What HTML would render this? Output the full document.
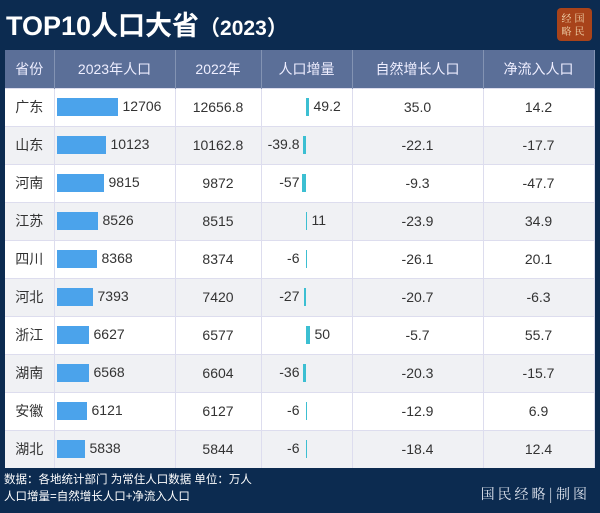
<!DOCTYPE html>
<html><head><meta charset="utf-8"><style>
body{margin:0;width:600px;height:513px;background:#0c2b50;font-family:"Liberation Sans","Noto Sans CJK SC",sans-serif;position:relative;overflow:hidden}
.t{position:absolute;left:6px;top:4px;color:#fff;font-size:27px;font-weight:bold;letter-spacing:0px}
.t span{font-size:21px}
.logo{position:absolute;left:557px;top:8px;width:35px;height:33px;background:#a8431a;border-radius:4px;color:#f3d9b0;font-family:"Noto Serif CJK SC",serif;font-size:10px;line-height:13px;text-align:center;padding-top:3px;box-sizing:border-box;letter-spacing:3px}
table{position:absolute;left:5px;top:50px;width:589px;border-collapse:collapse;table-layout:fixed}
th{height:38px;background:#5b6f98;color:#eef;font-weight:normal;font-size:14px;border-right:1px solid #8393b3;padding:0;box-sizing:border-box}
td{height:38px;box-sizing:border-box;font-size:14px;color:#333;text-align:center;border-right:1px solid #dde;border-top:1px solid #dde;padding:0;position:relative;line-height:16px}
tr:nth-child(odd) td{background:#f0f1f4}
tr:nth-child(even) td{background:#fff}
.b{position:absolute;left:2px;top:9px;height:18px;background:#4ba3eb}
.bl{position:absolute;top:9px;font-size:14px;line-height:16px}
.inc{position:absolute;top:9px;height:18px;background:#3cbfd2}
.foot{position:absolute;left:4px;top:472px;color:#fff;font-size:11.5px;line-height:17px}
.brand{position:absolute;right:10px;top:484px;color:#dfe4ee;font-size:14px;letter-spacing:3px;font-family:"Noto Serif CJK SC",serif}
</style></head><body>
<div class="t">TOP10人口大省<span>（2023）</span></div>
<div class="logo">经国<br>略民</div>
<table>
<colgroup><col style="width:49px"><col style="width:121px"><col style="width:86px"><col style="width:91px"><col style="width:131px"><col style="width:111px"></colgroup>
<tr><th>省份</th><th>2023年人口</th><th>2022年</th><th>人口增量</th><th>自然增长人口</th><th>净流入人口</th></tr>
<tr><td>广东</td><td style="text-align:left"><div class="b" style="width:61px"></div><span class="bl" style="left:68px">12706</span></td><td>12656.8</td><td><div class="inc" style="left:44px;width:3px"></div><span class="bl" style="left:52px">49.2</span></td><td>35.0</td><td>14.2</td></tr>
<tr><td>山东</td><td style="text-align:left"><div class="b" style="width:49px"></div><span class="bl" style="left:56px">10123</span></td><td>10162.8</td><td><div class="inc" style="left:41px;width:3px"></div><span class="bl" style="right:52px">-39.8</span></td><td>-22.1</td><td>-17.7</td></tr>
<tr><td>河南</td><td style="text-align:left"><div class="b" style="width:47px"></div><span class="bl" style="left:54px">9815</span></td><td>9872</td><td><div class="inc" style="left:40px;width:4px"></div><span class="bl" style="right:52px">-57</span></td><td>-9.3</td><td>-47.7</td></tr>
<tr><td>江苏</td><td style="text-align:left"><div class="b" style="width:41px"></div><span class="bl" style="left:48px">8526</span></td><td>8515</td><td><div class="inc" style="left:44px;width:1px"></div><span class="bl" style="left:50px">11</span></td><td>-23.9</td><td>34.9</td></tr>
<tr><td>四川</td><td style="text-align:left"><div class="b" style="width:40px"></div><span class="bl" style="left:47px">8368</span></td><td>8374</td><td><div class="inc" style="left:44px;width:1px"></div><span class="bl" style="right:52px">-6</span></td><td>-26.1</td><td>20.1</td></tr>
<tr><td>河北</td><td style="text-align:left"><div class="b" style="width:36px"></div><span class="bl" style="left:43px">7393</span></td><td>7420</td><td><div class="inc" style="left:42px;width:2px"></div><span class="bl" style="right:52px">-27</span></td><td>-20.7</td><td>-6.3</td></tr>
<tr><td>浙江</td><td style="text-align:left"><div class="b" style="width:32px"></div><span class="bl" style="left:39px">6627</span></td><td>6577</td><td><div class="inc" style="left:44px;width:4px"></div><span class="bl" style="left:53px">50</span></td><td>-5.7</td><td>55.7</td></tr>
<tr><td>湖南</td><td style="text-align:left"><div class="b" style="width:32px"></div><span class="bl" style="left:39px">6568</span></td><td>6604</td><td><div class="inc" style="left:41px;width:3px"></div><span class="bl" style="right:52px">-36</span></td><td>-20.3</td><td>-15.7</td></tr>
<tr><td>安徽</td><td style="text-align:left"><div class="b" style="width:30px"></div><span class="bl" style="left:37px">6121</span></td><td>6127</td><td><div class="inc" style="left:44px;width:1px"></div><span class="bl" style="right:52px">-6</span></td><td>-12.9</td><td>6.9</td></tr>
<tr><td>湖北</td><td style="text-align:left"><div class="b" style="width:28px"></div><span class="bl" style="left:35px">5838</span></td><td>5844</td><td><div class="inc" style="left:44px;width:1px"></div><span class="bl" style="right:52px">-6</span></td><td>-18.4</td><td>12.4</td></tr>
</table>
<div class="foot">数据：各地统计部门 为常住人口数据 单位：万人<br>人口增量=自然增长人口+净流入人口</div>
<div class="brand">国民经略|制图</div>
</body></html>
